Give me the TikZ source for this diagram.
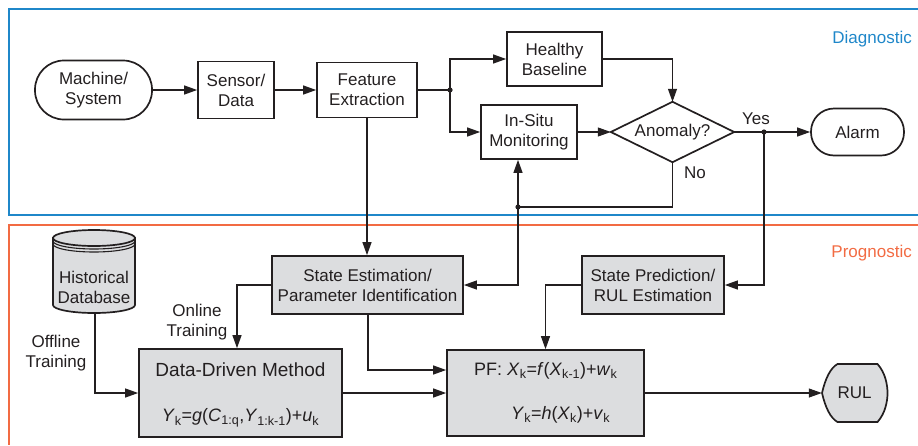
\documentclass[tikz,border=0pt]{standalone}
\usepackage{fontspec}
\setmainfont{Liberation Sans}
\usetikzlibrary{arrows.meta,shapes.geometric,calc}
\definecolor{diagblue}{HTML}{1F87C9}
\definecolor{progorange}{HTML}{F26B43}
\definecolor{boxgray}{HTML}{DCDDDF}
\definecolor{ink}{HTML}{231F20}
\newcommand\lsub[1]{\textsubscript{#1}}
\begin{document}
\begin{tikzpicture}[x=1pt,y=-1pt,
  font=\fontsize{17}{20}\selectfont,
  box/.style={draw=ink,line width=1.7pt,align=center,inner sep=0pt,text=ink},
  graybox/.style={box,fill=boxgray},
  stadium/.style={box,rounded corners=#1},
  arr/.style={draw=ink,line width=1.1pt,-{Triangle[length=13pt,width=9pt]}},
  wire/.style={draw=ink,line width=1.1pt},
  label/.style={text=ink,align=center,inner sep=0pt},
  dot/.style={fill=ink}]
\useasboundingbox (0,0) rectangle (918,445);

% section frames
\draw[diagblue,line width=1.1pt] (918,9) -- (9,9) -- (9,215) -- (918,215);
\draw[progorange,line width=1.1pt] (918,225) -- (9,225) -- (9,445);
\node[anchor=east,text=diagblue,inner sep=0pt] (diaglbl) at (912,39) {Diagnostic};
\node[anchor=east,text=progorange,inner sep=0pt] (proglbl) at (912,253) {Prognostic};

% diagnostic chain
\node[stadium=29pt,minimum width=117pt,minimum height=59pt] (mach) at (93.5,90) {Machine/\\System};
\node[box,minimum width=76pt,minimum height=57pt] (sens) at (236,90) {Sensor/\\Data};
\node[box,minimum width=100pt,minimum height=55pt] (feat) at (367,90) {Feature\\Extraction};
\node[box,minimum width=95pt,minimum height=54pt] (healthy) at (554.5,59) {Healthy\\Baseline};
\node[box,minimum width=96pt,minimum height=54pt] (insitu) at (529,132) {In-Situ\\Monitoring};
% decision: a bounding node whose side anchors are the diamond's corners
\node[label,minimum width=123pt,minimum height=60pt] (anom) at (672.5,132) {Anomaly?};
\draw[ink,line width=1.7pt,line join=miter] (anom.north) -- (anom.east) -- (anom.south) -- (anom.west) -- cycle;
\node[stadium=23pt,minimum width=93pt,minimum height=47pt] (alarm) at (857.5,132) {Alarm};
\node[label] (yes) at (756,119) {Yes};
\node[label] (no) at (695,173) {No};

\coordinate (j1) at (450,90);
\coordinate (jyes) at (764,132);
\coordinate (jno) at (518,207);

% prognostic blocks
\node[graybox,minimum width=191pt,minimum height=58pt] (stest) at (367.5,285) {State Estimation/\\Parameter Identification};
\node[graybox,minimum width=142pt,minimum height=58pt] (stpred) at (653,285) {State Prediction/\\RUL Estimation};
\node[graybox,minimum width=203pt,minimum height=88pt] (ddm) at (240.5,393) {};
\node[label,font=\fontsize{19}{22}\selectfont] (ddmtitle) at (240.5,370) {Data-Driven Method};
\node[label,font=\fontsize{18}{22}\selectfont] (ddmeq) at (240.5,418)
  {\textit{Y}\lsub{k}=\textit{g}(\textit{C}\lsub{1:q},\textit{Y}\lsub{1:k-1})+\textit{u}\lsub{k}};
\node[graybox,minimum width=197pt,minimum height=86pt] (pf) at (545.5,393) {};
\node[label,anchor=west,font=\fontsize{18}{22}\selectfont] (pfeq1) at (474,371)
  {PF: \textit{X}\lsub{k}=\textit{f}(\textit{X}\lsub{k-1})+\textit{w}\lsub{k}};
\node[label,anchor=west,font=\fontsize{18}{22}\selectfont] (pfeq2) at (511,415)
  {\textit{Y}\lsub{k}=\textit{h}(\textit{X}\lsub{k})+\textit{v}\lsub{k}};

% RUL display shape
\begin{scope}[shift={(854.5,393)}]
  \filldraw[fill=boxgray,draw=ink,line width=1.7pt]
    (-32.5,0) .. controls (-29,-15) and (-24,-25) .. (-17,-29)
    -- (23,-29) .. controls (31,-20) and (33,-8) .. (33,0)
    .. controls (33,8) and (31,20) .. (23,29)
    -- (-17,29) .. controls (-24,25) and (-29,15) .. (-32.5,0) -- cycle;
\end{scope}
\node[label,minimum width=65pt,minimum height=58pt] (rul) at (854.5,393) {RUL};

% historical database cylinder
\filldraw[fill=boxgray,draw=ink,line width=1.7pt]
  (53,238) -- (53,305) arc[start angle=180,end angle=360,x radius=41pt,y radius=8pt]
  -- (135,238) -- cycle;
\filldraw[fill=boxgray,draw=ink,line width=1.7pt] (94,238) ellipse[x radius=41pt,y radius=8pt];
\draw[ink,line width=1.1pt] (53,241) arc[start angle=180,end angle=360,x radius=41pt,y radius=8pt];
\draw[ink,line width=1.1pt] (53,244) arc[start angle=180,end angle=360,x radius=41pt,y radius=8pt];
\node[label] (db) at (94,287) {Historical\\Database};
\coordinate (dbbot) at (95,313);

\node[label] (online) at (197,322) {Online\\Training};
\node[label] (offline) at (56,353) {Offline\\Training};

% diagnostic connectors
\draw[arr] (mach) -- (sens);
\draw[arr] (sens) -- (feat);
\draw[wire] (feat.east |- j1) -- (j1);
\draw[arr] (j1) |- (healthy.west);
\draw[arr] (j1) |- (insitu.west);
\draw[arr] (healthy.east) -| (anom.north);
\draw[arr] (insitu.east) -- (anom.west);
\draw[arr] (anom.east) -- (alarm.west);
\draw[wire] (anom.south) |- (jno);
\draw[arr] (jno) -- (jno |- insitu.south);
\draw[arr] (jno) |- (stest.east);
\draw[arr] (jyes) |- (stpred.east);

% prognostic connectors
\draw[arr] (feat.south) -- (feat.south |- stest.north);
\draw[arr] (stest.west) -| ([xshift=-3.5pt]ddm.north);
\draw[arr] (dbbot) |- (ddm.west);
\draw[arr] ([xshift=0.5pt]stest.south) |- ([yshift=23pt]pf.west);
\draw[arr] (ddm.east) -- (pf.west);
\draw[arr] (stpred.west) -| (pf.north);
\draw[arr] (pf.east) -- (rul.west);

% junction dots
\fill[dot] (j1) circle[radius=2.6pt];
\fill[dot] (jyes) circle[radius=2.6pt];
\fill[dot] (jno) circle[radius=2.6pt];
\end{tikzpicture}
\end{document}
